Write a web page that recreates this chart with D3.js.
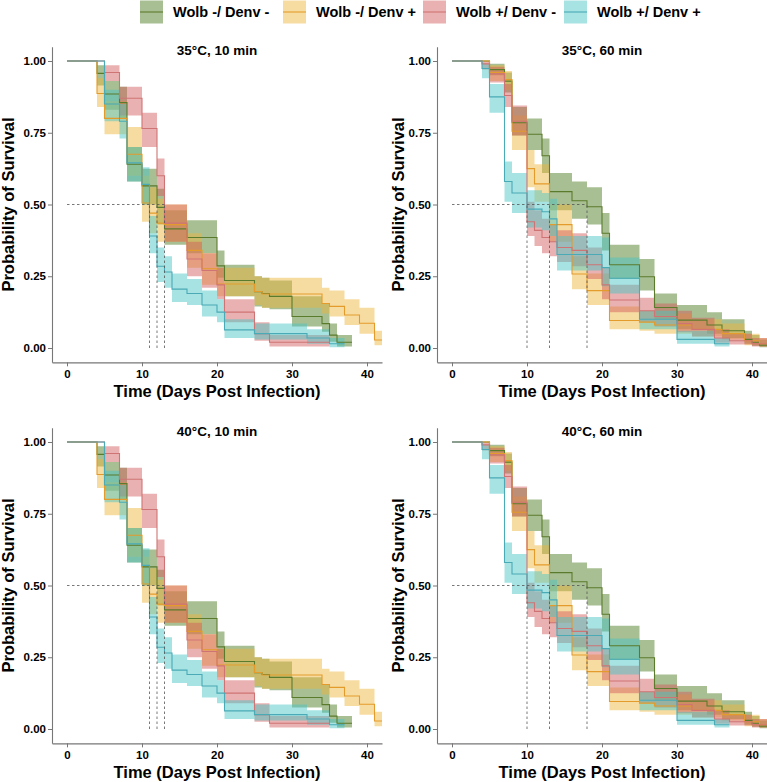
<!DOCTYPE html>
<html>
<head>
<meta charset="utf-8">
<script src="https://cdn.jsdelivr.net/npm/d3@7"></script>
<style>
  body { margin: 0; background: #fff; }
  svg { font-family: "Liberation Sans", Arial, sans-serif; }
</style>
</head>
<body>
<script>
// groups in legend order
const groups = ["Wolb -/ Denv -", "Wolb -/ Denv +", "Wolb +/ Denv -", "Wolb +/ Denv +"];
const panelTitles = ["35°C, 10 min", "35°C, 60 min", "40°C, 10 min", "40°C, 60 min"];
const xTicks = [0, 10, 20, 30, 40];
const yTicks = [0, 0.25, 0.5, 0.75, 1];

// each row: [day, survival, lower CI, upper CI]   (10 min exposure)
const min10_wolbNeg_denvNeg = [
  [0, 1, 1, 1], [4, 0.957, 0.915, 0.985], [5, 0.885, 0.83, 0.93], [7, 0.855, 0.80, 0.91],
  [8, 0.64, 0.58, 0.70], [10, 0.565, 0.50, 0.625], [12, 0.49, 0.43, 0.555], [13, 0.415, 0.36, 0.48],
  [16, 0.385, 0.33, 0.445], [20, 0.286, 0.245, 0.34], [21, 0.235, 0.18, 0.29], [25, 0.196, 0.145, 0.25],
  [26, 0.19, 0.14, 0.245], [27, 0.18, 0.135, 0.235], [30, 0.11, 0.075, 0.18], [34, 0.085, 0.057, 0.155],
  [35, 0.045, 0.022, 0.085], [36, 0.02, 0.005, 0.045], [38, 0.02, 0.005, 0.045]
];
const min10_wolbNeg_denvPos = [
  [0, 1, 1, 1], [4, 0.887, 0.84, 0.94], [5, 0.80, 0.745, 0.86], [8, 0.675, 0.60, 0.77],
  [10, 0.505, 0.44, 0.60], [11, 0.47, 0.40, 0.56], [12, 0.435, 0.37, 0.52], [13, 0.43, 0.37, 0.50],
  [16, 0.34, 0.28, 0.40], [18, 0.276, 0.22, 0.33], [20, 0.223, 0.18, 0.28], [25, 0.197, 0.15, 0.25],
  [26, 0.188, 0.14, 0.245], [34, 0.155, 0.12, 0.21], [35, 0.145, 0.11, 0.20], [37, 0.115, 0.08, 0.17],
  [39, 0.086, 0.05, 0.14], [41, 0.028, 0.01, 0.06], [42, 0.028, 0.01, 0.06]
];
const min10_wolbPos_denvNeg = [
  [0, 1, 1, 1], [5, 0.96, 0.93, 0.985], [7, 0.87, 0.81, 0.91], [10, 0.765, 0.70, 0.82],
  [12, 0.60, 0.53, 0.66], [13, 0.435, 0.37, 0.50], [16, 0.31, 0.25, 0.37], [18, 0.27, 0.21, 0.33],
  [20, 0.22, 0.17, 0.28], [21, 0.125, 0.09, 0.17], [25, 0.05, 0.025, 0.09], [27, 0.02, 0.005, 0.045],
  [35, 0.02, 0.005, 0.045]
];
const min10_wolbPos_denvPos = [
  [0, 1, 1, 1], [5, 0.85, 0.79, 0.90], [7, 0.79, 0.73, 0.85], [8, 0.645, 0.58, 0.70],
  [10, 0.57, 0.50, 0.63], [11, 0.39, 0.33, 0.46], [12, 0.285, 0.23, 0.35], [13, 0.265, 0.21, 0.32],
  [14, 0.205, 0.16, 0.26], [16, 0.19, 0.15, 0.24], [18, 0.15, 0.11, 0.20], [20, 0.125, 0.09, 0.17],
  [21, 0.063, 0.035, 0.10], [25, 0.05, 0.03, 0.085], [32, 0.035, 0.015, 0.065], [35, 0.015, 0.003, 0.035],
  [37, 0.015, 0.003, 0.035]
];

// 60 min exposure
const min60_wolbNeg_denvNeg = [
  [0, 1, 1, 1], [5, 0.97, 0.95, 0.99], [7, 0.93, 0.89, 0.96], [8, 0.785, 0.74, 0.84],
  [10, 0.745, 0.69, 0.80], [12, 0.67, 0.61, 0.73], [13, 0.545, 0.48, 0.61], [16, 0.513, 0.45, 0.58],
  [18, 0.492, 0.43, 0.56], [20, 0.40, 0.34, 0.47], [21, 0.29, 0.24, 0.36], [25, 0.248, 0.20, 0.31],
  [27, 0.141, 0.10, 0.19], [30, 0.097, 0.065, 0.15], [34, 0.08, 0.05, 0.125], [36, 0.06, 0.035, 0.10],
  [39, 0.03, 0.015, 0.06], [40, 0.02, 0.008, 0.045], [41, 0.01, 0.003, 0.03], [42, 0.01, 0.003, 0.03]
];
const min60_wolbNeg_denvPos = [
  [0, 1, 1, 1], [5, 0.96, 0.93, 0.985], [7, 0.935, 0.90, 0.965], [8, 0.755, 0.69, 0.81],
  [10, 0.625, 0.56, 0.69], [11, 0.572, 0.51, 0.64], [13, 0.43, 0.37, 0.50], [16, 0.258, 0.205, 0.32],
  [18, 0.20, 0.15, 0.26], [21, 0.096, 0.065, 0.145], [25, 0.09, 0.06, 0.13], [27, 0.08, 0.05, 0.12],
  [32, 0.065, 0.04, 0.10], [36, 0.05, 0.03, 0.085], [39, 0.025, 0.01, 0.05], [41, 0.015, 0.005, 0.035],
  [42, 0.015, 0.005, 0.035]
];
const min60_wolbPos_denvNeg = [
  [0, 1, 1, 1], [4, 0.99, 0.97, 1], [5, 0.955, 0.925, 0.98], [7, 0.88, 0.84, 0.92],
  [8, 0.79, 0.74, 0.845], [10, 0.44, 0.39, 0.51], [11, 0.41, 0.355, 0.48], [12, 0.385, 0.33, 0.45],
  [13, 0.37, 0.32, 0.43], [14, 0.35, 0.30, 0.41], [16, 0.34, 0.285, 0.40], [18, 0.29, 0.24, 0.35],
  [20, 0.22, 0.17, 0.28], [21, 0.167, 0.125, 0.22], [25, 0.13, 0.09, 0.175], [27, 0.11, 0.075, 0.155],
  [30, 0.085, 0.055, 0.13], [32, 0.065, 0.04, 0.105], [35, 0.035, 0.018, 0.065], [37, 0.025, 0.012, 0.05],
  [40, 0.015, 0.005, 0.035], [42, 0.015, 0.005, 0.035]
];
const min60_wolbPos_denvPos = [
  [0, 1, 1, 1], [4, 0.974, 0.94, 0.99], [5, 0.875, 0.82, 0.92], [7, 0.58, 0.51, 0.65],
  [8, 0.54, 0.47, 0.61], [10, 0.484, 0.42, 0.55], [12, 0.475, 0.41, 0.54], [13, 0.45, 0.39, 0.52],
  [14, 0.326, 0.27, 0.39], [20, 0.28, 0.215, 0.385], [21, 0.243, 0.19, 0.315], [25, 0.10, 0.065, 0.13],
  [30, 0.03, 0.015, 0.06], [35, 0.015, 0.005, 0.035], [37, 0.015, 0.005, 0.035]
];

const min10_medians = [11, 12, 13];
const min60_medians = [10, 13, 18];

const min10_curves = [min10_wolbNeg_denvNeg, min10_wolbNeg_denvPos, min10_wolbPos_denvNeg, min10_wolbPos_denvPos];
const min60_curves = [min60_wolbNeg_denvNeg, min60_wolbNeg_denvPos, min60_wolbPos_denvNeg, min60_wolbPos_denvPos];

// the 35°C and 40°C rows show the same curves
const panels = [
  {title: panelTitles[0], curves: min10_curves, medians: min10_medians, col: 0, row: 0},
  {title: panelTitles[1], curves: min60_curves, medians: min60_medians, col: 1, row: 0},
  {title: panelTitles[2], curves: min10_curves, medians: min10_medians, col: 0, row: 1},
  {title: panelTitles[3], curves: min60_curves, medians: min60_medians, col: 1, row: 1}
];

const lineColors = ["#5b7b2c", "#e39b2b", "#cf7474", "#4aaab6"];
const bandColors = ["#4a7a1e", "#efb53c", "#d05c5c", "#48c4c4"];
const bandOpacity = 0.48;

const width = 767, height = 782;
const colX = [52, 437];
const rowY = [46.65, 427.65];
const pw = 330, ph = 315.7;
const yTitleX = [14, 404];

const svg = d3.select("body").append("svg")
  .attr("width", width)
  .attr("height", height);

const x = d3.scaleLinear().domain([-2, 42]).range([0, pw]);
const y = d3.scaleLinear().domain([-0.05, 1.05]).range([ph, 0]);

const band = d3.area()
  .x(d => x(d[0]))
  .y0(d => y(d[2]))
  .y1(d => y(d[3]))
  .curve(d3.curveStepAfter);

const line = d3.line()
  .x(d => x(d[0]))
  .y(d => y(d[1]))
  .curve(d3.curveStepAfter);

panels.forEach(function (p, i) {
  const g = svg.append("g")
    .attr("transform", "translate(" + colX[p.col] + "," + rowY[p.row] + ")");

  svg.append("clipPath").attr("id", "clip" + i)
    .append("rect").attr("width", pw).attr("height", ph);

  const plot = g.append("g").attr("clip-path", "url(#clip" + i + ")");

  plot.selectAll(".band")
    .data(p.curves)
    .enter()
    .append("path")
    .attr("class", "band")
    .attr("d", band)
    .attr("fill", (d, k) => bandColors[k])
    .attr("fill-opacity", bandOpacity);

  plot.selectAll(".curve")
    .data(p.curves)
    .enter()
    .append("path")
    .attr("class", "curve")
    .attr("d", line)
    .attr("fill", "none")
    .attr("stroke", (d, k) => lineColors[k])
    .attr("stroke-width", 1.1);

  // median survival lines
  plot.append("line")
    .attr("x1", x(0)).attr("x2", x(d3.max(p.medians)))
    .attr("y1", y(0.5)).attr("y2", y(0.5))
    .attr("stroke", "#555").attr("stroke-width", 0.8)
    .attr("stroke-dasharray", "2.5,2.5");

  plot.selectAll(".median")
    .data(p.medians)
    .enter()
    .append("line")
    .attr("class", "median")
    .attr("x1", d => x(d)).attr("x2", d => x(d))
    .attr("y1", y(0)).attr("y2", y(0.5))
    .attr("stroke", "#555").attr("stroke-width", 0.8)
    .attr("stroke-dasharray", "2.5,2.5");

  const xAxis = g.append("g")
    .attr("transform", "translate(0," + ph + ")")
    .call(d3.axisBottom(x).tickValues(xTicks).tickSize(4).tickSizeOuter(0).tickPadding(3));

  const yAxis = g.append("g")
    .call(d3.axisLeft(y).tickValues(yTicks).tickFormat(d3.format(".2f"))
      .tickSize(4).tickSizeOuter(0).tickPadding(2));

  [xAxis, yAxis].forEach(function (a) {
    a.select(".domain").attr("stroke", "#777").attr("stroke-width", 1.1);
    a.selectAll(".tick line").attr("stroke", "#777");
    a.selectAll(".tick text")
      .attr("fill", "#000")
      .attr("font-size", "11.5px")
      .attr("font-weight", "bold")
      .attr("font-family", "Liberation Sans, Arial, sans-serif");
  });

  g.append("text")
    .attr("x", pw / 2)
    .attr("y", 8)
    .attr("text-anchor", "middle")
    .attr("font-size", "13.5px")
    .attr("font-weight", "bold")
    .text(p.title);

  g.append("text")
    .attr("x", pw / 2)
    .attr("y", ph + 35)
    .attr("text-anchor", "middle")
    .attr("font-size", "16.5px")
    .attr("font-weight", "bold")
    .text("Time (Days Post Infection)");

  svg.append("text")
    .attr("transform", "translate(" + yTitleX[p.col] + "," + (rowY[p.row] + ph / 2) + ") rotate(-90)")
    .attr("text-anchor", "middle")
    .attr("font-size", "16.5px")
    .attr("font-weight", "bold")
    .text("Probability of Survival");
});

// legend
const legendX = [140, 283, 423, 564];
const legend = svg.append("g").attr("class", "legend");
groups.forEach(function (name, k) {
  const item = legend.append("g").attr("transform", "translate(" + legendX[k] + ",0.5)");
  item.append("rect")
    .attr("width", 23).attr("height", 23)
    .attr("fill", bandColors[k]).attr("fill-opacity", bandOpacity);
  item.append("line")
    .attr("x1", 0).attr("x2", 23)
    .attr("y1", 11.5).attr("y2", 11.5)
    .attr("stroke", lineColors[k]).attr("stroke-width", 1.1);
  item.append("text")
    .attr("x", 33).attr("y", 16.5)
    .attr("font-size", "14.5px")
    .attr("font-weight", "bold")
    .text(name);
});
</script>
</body>
</html>
